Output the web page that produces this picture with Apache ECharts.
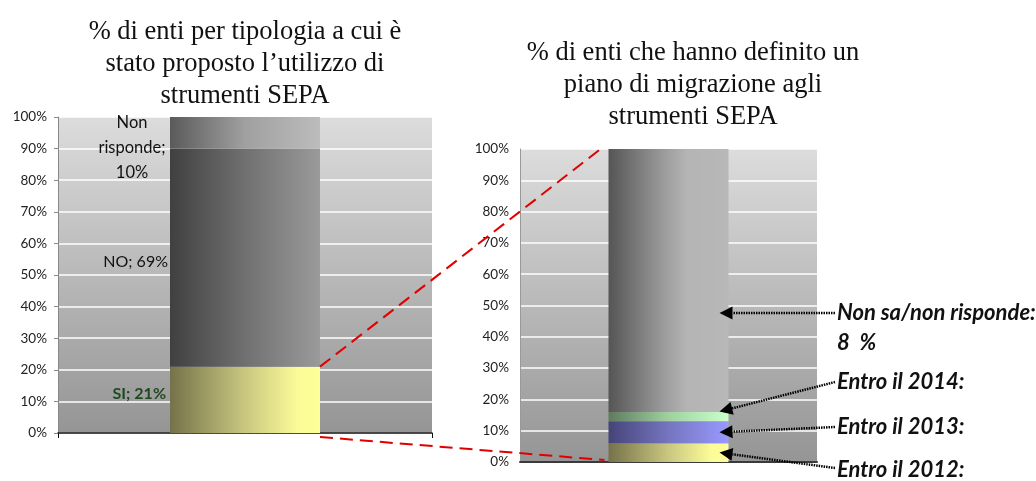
<!DOCTYPE html>
<html><head><meta charset="utf-8">
<script src="https://cdn.jsdelivr.net/npm/echarts@6/dist/echarts.min.js"></script>
<style>html,body{margin:0;padding:0;background:#fff}#c{width:1036px;height:481px}</style>
</head><body><div id="c"></div>
<script>
// ---- data ----
const leftCategories = ['Tipologia'];
const leftNames = ['SI', 'NO', 'Non risponde'];
const leftValues = [21, 69, 10];
const rightCategories = ['Piano'];
const rightNames = ['Entro il 2012', 'Entro il 2013', 'Entro il 2014', 'Non sa/non risponde'];
const rightValues = [6, 7, 3, 84];
const rightLabels = ['Entro il 2012:', 'Entro il 2013:', 'Entro il 2014:', 'Non sa/non risponde:'];
const rightExtraLabel = '8  %';
const leftTitle = '% di enti per tipologia a cui è\nstato proposto l\u2019utilizzo di\nstrumenti SEPA';
const rightTitle = '% di enti che hanno definito un\npiano di migrazione agli\nstrumenti SEPA';

const G = echarts.graphic;
function hgrad(stops){ return new G.LinearGradient(0,0,1,0, stops.map(s=>({offset:s[0], color:s[1]}))); }
function vgrad(a,b){ return new G.LinearGradient(0,0,0,1,[{offset:0,color:a},{offset:1,color:b}]); }

const leftColors = [
  hgrad([[0,'#75724a'],[0.5,'#c9c780'],[0.85,'#fbfb98'],[1,'#ffff99']]),
  hgrad([[0,'#404040'],[0.5,'#707070'],[1,'#9a9a9a']]),
  hgrad([[0,'#5a5a5a'],[0.5,'#a0a0a0'],[1,'#bcbcbc']])
];
const rightColors = [
  hgrad([[0,'#75724a'],[0.5,'#c9c780'],[0.85,'#fbfb98'],[1,'#ffff99']]),
  hgrad([[0,'#454478'],[0.5,'#7575c0'],[1,'#9999ff']]),
  hgrad([[0,'#5f7a5f'],[0.5,'#a0d0a0'],[1,'#ccffcc']]),
  hgrad([[0,'#555555'],[0.45,'#9a9a9a'],[0.65,'#b4b4b4'],[1,'#b8b8b8']])
];

const leftLabelCfg = [
  {show:true, position:'left', distance:4, formatter:'SI; 21%', color:'#1f4a1f', fontWeight:'bold', fontSize:16, fontFamily:'Lato', offset:[0,-6]},
  {show:true, position:'left', distance:2, formatter:'NO; 69%', color:'#111', fontSize:16, fontFamily:'Lato', offset:[0,4]},
  {show:true, position:'left', distance:0, formatter:'Non\nrisponde;\n10%', color:'#111', fontSize:16.5, fontFamily:'Lato', align:'center', lineHeight:25, offset:[-38,15]}
];

const axisLabelStyle = {color:'#222', fontSize:13.5, fontFamily:'Lato', formatter:'{value}%', margin:11};

const series = [];
leftNames.forEach((n,i)=>series.push({
  name:n, type:'bar', stack:'L', xAxisIndex:0, yAxisIndex:0, barWidth:150,
  data:[leftValues[i]], itemStyle:{color:leftColors[i]}, label:leftLabelCfg[i], silent:true
}));
rightNames.forEach((n,i)=>series.push({
  name:n, type:'bar', stack:'R', xAxisIndex:1, yAxisIndex:1, barWidth:120,
  data:[rightValues[i]], itemStyle:{color:rightColors[i]}, silent:true
}));

const chart = echarts.init(document.getElementById('c'), null, {renderer:'canvas'});
chart.setOption({
  animation:false,
  backgroundColor:'#ffffff',
  title:[
    {text:leftTitle, left:240, top:11, textAlign:'center',
     textStyle:{fontFamily:'Liberation Serif', fontWeight:'normal', fontSize:26.5, color:'#111', lineHeight:32, align:'center'}},
    {text:rightTitle, left:688, top:32, textAlign:'center',
     textStyle:{fontFamily:'Liberation Serif', fontWeight:'normal', fontSize:26.5, color:'#111', lineHeight:32, align:'center'}}
  ],
  grid:[
    {left:58, right:604, top:117, bottom:48, show:true, borderWidth:0, backgroundColor:vgrad('#dcdcdc','#959595')},
    {left:520, right:219, top:149, bottom:19, show:true, borderWidth:0, backgroundColor:vgrad('#dcdcdc','#959595')}
  ],
  xAxis:[
    {type:'category', gridIndex:0, data:leftCategories, axisLabel:{show:false},
     axisLine:{lineStyle:{color:'#111', width:1.5}}, axisTick:{show:true, length:5, lineStyle:{color:'#111'}}},
    {type:'category', gridIndex:1, data:rightCategories, axisLabel:{show:false},
     axisLine:{lineStyle:{color:'#3a3a3a', width:2}}, axisTick:{show:false}}
  ],
  yAxis:[
    {type:'value', gridIndex:0, min:0, max:100, interval:10, axisLabel:axisLabelStyle,
     axisLine:{show:true, lineStyle:{color:'#888'}}, axisTick:{show:true, length:4, lineStyle:{color:'#888'}},
     splitLine:{lineStyle:{color:'#ffffff', width:1.5}}},
    {type:'value', gridIndex:1, min:0, max:100, interval:10, axisLabel:axisLabelStyle,
     axisLine:{show:true, lineStyle:{color:'#999'}}, axisTick:{show:false},
     splitLine:{lineStyle:{color:'#ffffff', width:1.5}}}
  ],
  series:series
});

// ---- annotations positioned from scales ----
const Lf = {xAxisIndex:0, yAxisIndex:0};
const Rf = {xAxisIndex:1, yAxisIndex:1};
const lc = chart.convertToPixel(Lf, [0, 0]);
const rc = chart.convertToPixel(Rf, [0, 0]);
const leftBarRight = lc[0] + 75;
const rightBarLeft = rc[0] - 60;
const rightBarRight = rc[0] + 60;
const lTop = chart.convertToPixel(Lf, [0, leftValues[0]])[1];
const l0 = chart.convertToPixel(Lf, [0, 0])[1];
const r100 = chart.convertToPixel(Rf, [0, 100])[1];
const r0 = chart.convertToPixel(Rf, [0, 0])[1];

const graphics = [];
graphics.push({type:'line', shape:{x1:leftBarRight, y1:lTop, x2:rightBarLeft-4, y2:r100-3},
  style:{stroke:'#e00000', lineWidth:2, lineDash:[13,7]}, z:100});
graphics.push({type:'line', shape:{x1:leftBarRight, y1:l0+4, x2:rightBarLeft-4, y2:r0-2},
  style:{stroke:'#e00000', lineWidth:2, lineDash:[13,7]}, z:100});

let cum = 0; const mids = [];
rightValues.forEach(v=>{ mids.push(cum + v/2); cum += v; });
const textX = 837;
const textYs = [470, 427, 382, 313];
const startYs = [468, 427, 382, 313];
const tipYs = [chart.convertToPixel(Rf,[0,mids[0]])[1], chart.convertToPixel(Rf,[0,mids[1]])[1],
  chart.convertToPixel(Rf,[0,mids[2]])[1] - 5, 313];
for (let i=0;i<4;i++){
  const x1 = textX - 2, y1 = startYs[i];
  const tx = rightBarRight - 9, ty = tipYs[i];
  const dx = tx - x1, dy = ty - y1, len = Math.hypot(dx,dy);
  const ux = dx/len, uy = dy/len, px = -uy, py = ux;
  const L = 13, W = 6.5;
  const bx = tx - ux*L, by = ty - uy*L;
  graphics.push({type:'line', shape:{x1:x1, y1:y1, x2:bx, y2:by},
    style:{stroke:'#000', lineWidth:2.5, lineDash:[1.5,1]}, z:100});
  graphics.push({type:'polygon', shape:{points:[[tx,ty],[bx+px*W,by+py*W],[bx-px*W,by-py*W]]},
    style:{fill:'#000'}, z:100});
  graphics.push({type:'text', x:textX, y:textYs[i], z:100,
    style:{text:rightLabels[i], fill:'#111', font:'italic bold 22px Lato', verticalAlign:'middle'}});
}
graphics.push({type:'text', x:textX, y:343, z:100,
  style:{text:rightExtraLabel, fill:'#111', font:'italic bold 22px Lato', verticalAlign:'middle'}});
chart.setOption({graphic:graphics});
</script>
</body></html>
